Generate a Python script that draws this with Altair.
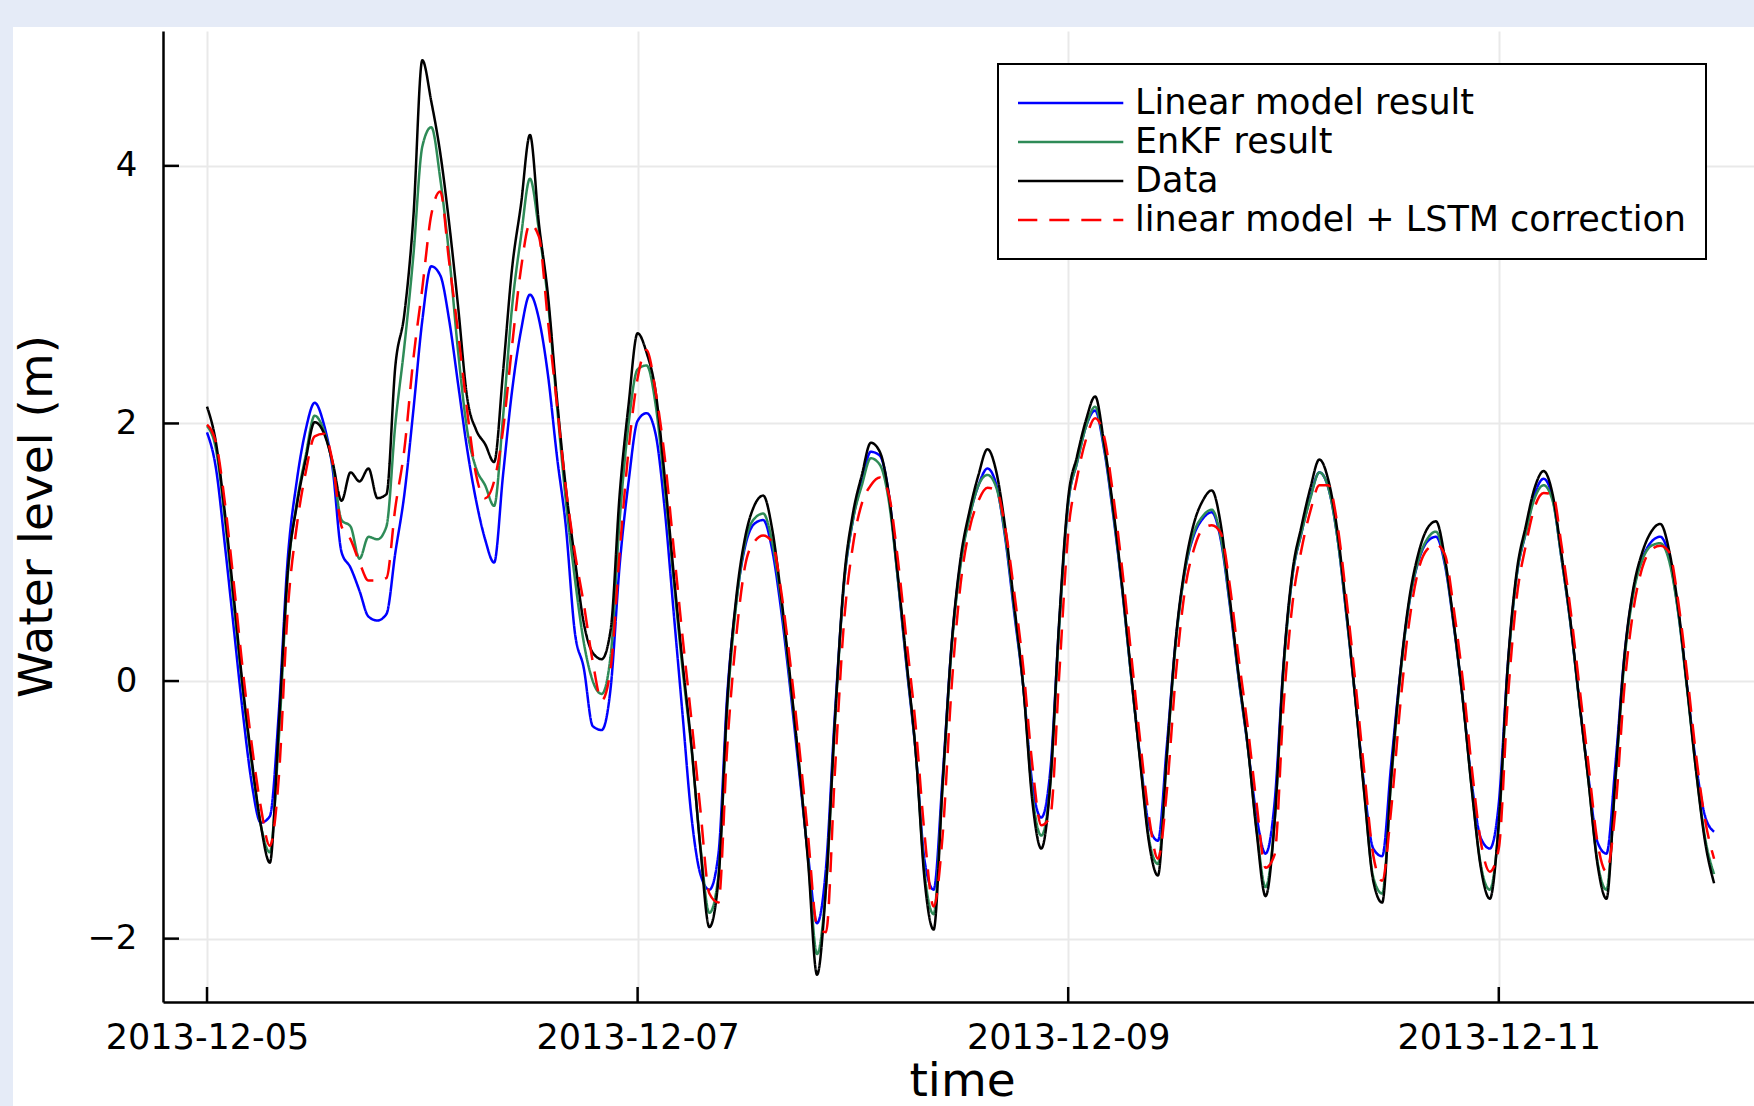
import altair as alt
import pandas as pd
from datetime import datetime, timedelta

# ---- data (hourly from 2013-12-05 00:00 UTC) ----
HOURS = list(range(169))

DATA = [
    2.13, 1.85, 1.30, 0.64, -0.05, -0.62, -1.12, -1.41, -0.35, 0.85,
    1.36, 1.72, 2.01, 1.93, 1.70, 1.40, 1.62, 1.55, 1.65, 1.42,
    1.45, 2.45, 2.85, 3.60, 4.82, 4.50, 4.10, 3.55, 2.90, 2.20,
    1.95, 1.84, 1.70, 2.40, 3.20, 3.70, 4.24, 3.55, 3.00, 2.20,
    1.50, 0.95, 0.45, 0.22, 0.17, 0.40, 1.45, 2.15, 2.70, 2.55,
    2.25, 1.60, 0.85, 0.15, -0.50, -1.30, -1.91, -1.55, -0.15, 0.65,
    1.12, 1.36, 1.44, 1.18, 0.66, 0.03, -0.65, -1.40, -2.28, -1.60,
    -0.30, 0.78, 1.30, 1.60, 1.85, 1.78, 1.45, 0.83, 0.14, -0.55,
    -1.55, -1.93, -0.80, 0.28, 0.95, 1.32, 1.60, 1.80, 1.62, 1.18,
    0.58, -0.05, -0.93, -1.30, -0.80, 0.47, 1.42, 1.75, 2.03, 2.21,
    1.85, 1.35, 0.75, 0.07, -0.61, -1.25, -1.51, -0.57, 0.33, 0.88,
    1.22, 1.40, 1.48, 1.22, 0.65, 0.05, -0.49, -1.17, -1.67, -1.10,
    0.12, 0.85, 1.20, 1.50, 1.72, 1.56, 1.17, 0.56, -0.13, -0.87,
    -1.55, -1.72, -0.75, 0.05, 0.63, 0.98, 1.18, 1.24, 0.95, 0.44,
    -0.15, -0.85, -1.45, -1.69, -1.10, 0.12, 0.85, 1.20, 1.50, 1.63,
    1.45, 0.98, 0.46, -0.17, -0.78, -1.42, -1.69, -0.75, 0.19, 0.72,
    1.00, 1.16, 1.22, 1.01, 0.57, -0.05, -0.70, -1.25, -1.57,
]

LINEAR = [
    1.93, 1.65, 1.05, 0.40, -0.25, -0.80, -1.10, -1.05, -0.25, 0.95,
    1.55, 1.95, 2.16, 2.00, 1.65, 1.00, 0.88, 0.70, 0.50, 0.47,
    0.52, 1.00, 1.45, 2.10, 2.80, 3.22, 3.15, 2.80, 2.30, 1.80,
    1.40, 1.10, 0.92, 1.60, 2.25, 2.72, 3.00, 2.81, 2.38, 1.75,
    1.20, 0.38, 0.10, -0.35, -0.38, -0.05, 0.90, 1.55, 2.02, 2.08,
    1.92, 1.35, 0.55, -0.25, -1.05, -1.50, -1.62, -1.35, -0.10, 0.62,
    1.05, 1.22, 1.25, 1.02, 0.55, -0.05, -0.70, -1.35, -1.88, -1.45,
    -0.25, 0.75, 1.25, 1.55, 1.78, 1.75, 1.45, 0.80, 0.10, -0.55,
    -1.40, -1.62, -0.75, 0.28, 0.92, 1.28, 1.52, 1.65, 1.52, 1.10,
    0.52, -0.05, -0.80, -1.06, -0.70, 0.45, 1.38, 1.70, 1.98, 2.10,
    1.80, 1.30, 0.72, 0.05, -0.58, -1.12, -1.24, -0.50, 0.32, 0.85,
    1.13, 1.26, 1.31, 1.10, 0.60, 0.02, -0.50, -1.05, -1.34, -0.95,
    0.12, 0.82, 1.15, 1.43, 1.62, 1.50, 1.12, 0.52, -0.13, -0.82,
    -1.30, -1.36, -0.65, 0.05, 0.60, 0.92, 1.08, 1.12, 0.90, 0.42,
    -0.15, -0.80, -1.22, -1.30, -0.95, 0.12, 0.82, 1.15, 1.45, 1.57,
    1.42, 0.95, 0.44, -0.17, -0.75, -1.25, -1.34, -0.65, 0.19, 0.70,
    0.95, 1.08, 1.12, 0.96, 0.54, -0.05, -0.65, -1.05, -1.17,
]

ENKF = [
    1.98, 1.80, 1.25, 0.58, -0.08, -0.65, -1.12, -1.33, -0.45, 0.82,
    1.38, 1.75, 2.06, 1.95, 1.68, 1.25, 1.20, 0.95, 1.12, 1.10,
    1.20, 2.00, 2.60, 3.30, 4.15, 4.30, 3.90, 3.30, 2.55, 1.95,
    1.65, 1.52, 1.36, 2.05, 2.90, 3.45, 3.90, 3.50, 2.95, 2.15,
    1.40, 0.80, 0.30, 0.00, -0.10, 0.20, 1.25, 2.00, 2.42, 2.45,
    2.15, 1.52, 0.80, 0.10, -0.52, -1.28, -1.80, -1.52, -0.20, 0.60,
    1.08, 1.26, 1.30, 1.08, 0.62, 0.00, -0.65, -1.38, -2.12, -1.60,
    -0.32, 0.75, 1.25, 1.52, 1.73, 1.68, 1.40, 0.80, 0.12, -0.55,
    -1.50, -1.81, -0.82, 0.25, 0.90, 1.27, 1.52, 1.60, 1.50, 1.12,
    0.55, -0.05, -0.88, -1.20, -0.80, 0.42, 1.38, 1.70, 1.98, 2.13,
    1.82, 1.32, 0.73, 0.05, -0.60, -1.22, -1.42, -0.58, 0.30, 0.85,
    1.15, 1.28, 1.33, 1.12, 0.62, 0.03, -0.50, -1.15, -1.60, -1.10,
    0.08, 0.82, 1.15, 1.42, 1.62, 1.50, 1.12, 0.53, -0.14, -0.86,
    -1.52, -1.65, -0.78, 0.02, 0.60, 0.93, 1.10, 1.16, 0.92, 0.43,
    -0.16, -0.84, -1.43, -1.62, -1.12, 0.08, 0.82, 1.15, 1.42, 1.52,
    1.40, 0.95, 0.44, -0.18, -0.78, -1.40, -1.62, -0.78, 0.15, 0.68,
    0.94, 1.05, 1.07, 0.93, 0.53, -0.07, -0.70, -1.22, -1.50,
]

LSTM = [
    1.99, 1.85, 1.38, 0.75, 0.08, -0.50, -0.98, -1.28, -0.75, 0.55,
    1.20, 1.62, 1.90, 1.92, 1.70, 1.20, 1.10, 0.92, 0.78, 0.78,
    0.80, 1.35, 1.80, 2.50, 3.05, 3.62, 3.80, 3.25, 2.70, 2.10,
    1.60, 1.42, 1.55, 1.95, 2.60, 3.20, 3.55, 3.45, 2.80, 2.15,
    1.50, 1.00, 0.60, 0.15, -0.15, 0.10, 1.00, 1.80, 2.35, 2.57,
    2.25, 1.75, 1.05, 0.35, -0.30, -1.00, -1.65, -1.72, -0.50, 0.35,
    0.90, 1.08, 1.13, 1.08, 0.70, 0.15, -0.50, -1.20, -1.90, -1.95,
    -0.70, 0.45, 1.05, 1.38, 1.52, 1.58, 1.45, 0.95, 0.30, -0.35,
    -1.20, -1.75, -1.20, -0.05, 0.75, 1.18, 1.40, 1.50, 1.48, 1.18,
    0.68, 0.10, -0.65, -1.12, -1.05, 0.05, 1.15, 1.58, 1.88, 2.04,
    1.90, 1.45, 0.88, 0.22, -0.45, -1.05, -1.38, -0.85, 0.05, 0.70,
    1.02, 1.18, 1.21, 1.15, 0.75, 0.18, -0.35, -0.95, -1.45, -1.35,
    -0.20, 0.60, 1.02, 1.32, 1.52, 1.52, 1.22, 0.65, 0.00, -0.70,
    -1.35, -1.55, -1.00, -0.20, 0.45, 0.85, 1.02, 1.06, 0.98, 0.55,
    0.00, -0.68, -1.25, -1.48, -1.30, -0.15, 0.65, 1.05, 1.35, 1.46,
    1.45, 1.05, 0.55, -0.05, -0.65, -1.25, -1.48, -1.00, -0.05, 0.55,
    0.88, 1.02, 1.05, 1.00, 0.62, 0.05, -0.58, -1.08, -1.38,
]

SERIES = ["Linear model result", "EnKF result", "Data",
          "linear model + LSTM correction"]
COLORS = ["#0000ff", "#2e8b57", "#000000", "#ff0000"]
DASHES = [[1, 0], [1, 0], [1, 0], [20, 12]]

Y_TICKS = [-2, 0, 2, 4]
X_TICKS = ["2013-12-05T00:00:00Z", "2013-12-07T00:00:00Z",
           "2013-12-09T00:00:00Z", "2013-12-11T00:00:00Z"]

# ---- build long table ----
start = datetime(2013, 12, 5)
rows = []
for name, vals in zip(SERIES, [LINEAR, ENKF, DATA, LSTM]):
    for h, v in zip(HOURS, vals):
        rows.append({
            "time": (start + timedelta(hours=h)).strftime("%Y-%m-%dT%H:%M:%SZ"),
            "series": name,
            "value": v,
        })
df = pd.DataFrame(rows)

W, H = 1591, 971

xscale = alt.Scale(
    type="utc",
    domain=[
        alt.DateTime(year=2013, month=12, date=4, hours=19, minutes=5, seconds=36, utc=True),
        alt.DateTime(year=2013, month=12, date=12, hours=4, minutes=27, utc=True),
    ],
)
yscale = alt.Scale(domain=[-2.492, 5.047], nice=False, zero=False)

tick_dates = [alt.DateTime(year=2013, month=12, date=d, utc=True) for d in (5, 7, 9, 11)]

x_enc = alt.X(
    "time:T",
    scale=xscale,
    axis=alt.Axis(
        values=tick_dates, format="%Y-%m-%d", title="time",
        labelFontSize=35, labelPadding=18, labelFlush=False, labelOverlap=False,
        labelLimit=500,
        ticks=False, domainColor="black", domainWidth=2.5,
        grid=True, gridColor="#e9e9e9", gridWidth=2,
        titleFontSize=47, titleFontWeight="normal", titleX=799, titleY=93,
        titleBaseline="alphabetic", titleAlign="center",
    ),
)
y_enc = alt.Y(
    "value:Q",
    scale=yscale,
    axis=alt.Axis(
        values=Y_TICKS, format="d", title="Water level (m)",
        labelFontSize=34, labelPadding=26,
        ticks=False, domainColor="black", domainWidth=2.5,
        grid=True, gridColor="#e9e9e9", gridWidth=2,
        titleFontSize=47, titleFontWeight="normal", titleX=-112, titleY=485,
        titleAngle=270, titleBaseline="alphabetic", titleAlign="center",
    ),
)

legend = alt.Legend(
    title=None, orient="none", legendX=835, legendY=33, direction="vertical",
    fillColor="white", strokeColor="black", padding=20,
    symbolType="M-3,0H3", symbolSize=1248, symbolStrokeWidth=2.5,
    symbolOffset=33.3, labelOffset=45.7,
    labelFontSize=35, labelColor="black", labelLimit=1000,
    clipHeight=38, rowPadding=1,
)
color = alt.Color("series:N", scale=alt.Scale(domain=SERIES, range=COLORS), legend=legend)
dash = alt.StrokeDash("series:N", scale=alt.Scale(domain=SERIES, range=DASHES), legend=legend)

base = alt.Chart(df)
line_layers = [
    base.transform_filter(alt.datum.series == s)
    .mark_line(strokeWidth=2.5, interpolate="monotone")
    .encode(x=x_enc, y=y_enc, color=color, strokeDash=dash)
    for s in SERIES
]

# light-blue page strips (top and left) around the white figure
top_strip = alt.Chart(pd.DataFrame({"k": [0]})).mark_rect(color="#e5ebf7").encode(
    x=alt.value(-163), x2=alt.value(W), y=alt.value(-31), y2=alt.value(-4)
)
left_strip = alt.Chart(pd.DataFrame({"k": [0]})).mark_rect(color="#e5ebf7").encode(
    x=alt.value(-163), x2=alt.value(-150), y=alt.value(-31), y2=alt.value(1075)
)

# inward tick marks (same fields as the lines, so the axes merge)
ytick = alt.Chart(pd.DataFrame({"value": Y_TICKS})).mark_rule(color="black", strokeWidth=2.5).encode(
    y=y_enc, x=alt.value(0), x2=alt.value(16)
)
xtick = alt.Chart(pd.DataFrame({"time": X_TICKS})).mark_rule(color="black", strokeWidth=2.5).encode(
    x=x_enc, y=alt.value(H - 15), y2=alt.value(H)
)

chart = alt.layer(top_strip, left_strip, ytick, xtick, *line_layers).properties(
    width=W, height=H,
    padding={"left": 163, "top": 31, "right": 0, "bottom": 104},
    autosize=alt.AutoSizeParams(type="none"),
    background="white",
).configure_view(stroke=None).configure_axis(
    labelFont="DejaVu Sans", titleFont="DejaVu Sans", labelColor="black", titleColor="black"
).configure_legend(
    labelFont="DejaVu Sans", strokeWidth=2
)

chart.save("out.html", embed_options={"renderer": "svg", "actions": False})
